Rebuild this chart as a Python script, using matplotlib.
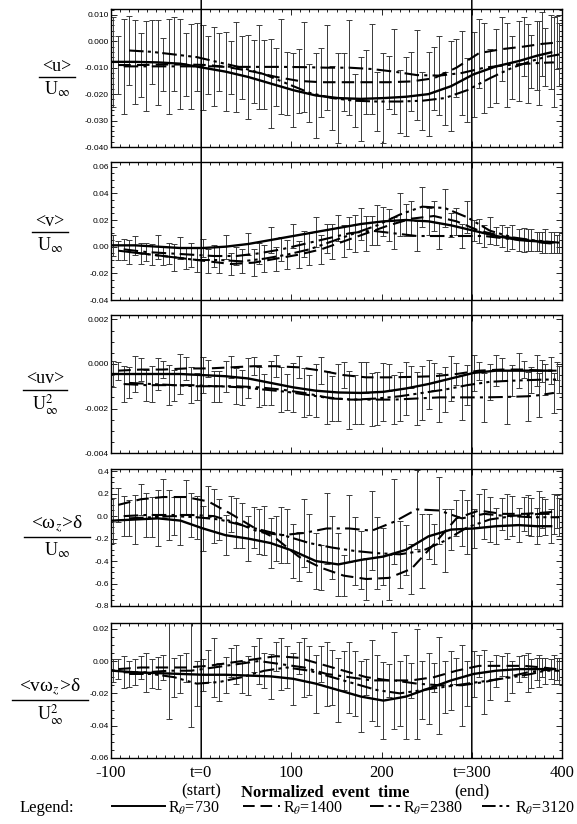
import matplotlib
matplotlib.use('Agg')
import matplotlib.pyplot as plt
from matplotlib.patches import ConnectionPatch
from matplotlib.lines import Line2D
from matplotlib.ticker import MultipleLocator

plt.rcParams['mathtext.fontset'] = 'stix'
plt.rcParams['font.family'] = ['Liberation Serif', 'DejaVu Serif']
plt.rcParams['axes.unicode_minus'] = False

# sample times for each Reynolds number (normalized event time)
t730 = [-98, -73, -48, -23, 2, 27, 52, 77, 102, 127, 152, 177, 202, 227, 252, 277, 302, 327, 352, 372, 388]
t1400 = [-92, -67, -42, -17, 8, 33, 58, 83, 108, 133, 158, 183, 208, 233, 258, 283, 308, 333, 358, 378, 394]
t2380 = [-86, -61, -36, -11, 14, 39, 64, 89, 114, 139, 164, 189, 214, 239, 264, 289, 314, 339, 362, 375, 391]
t3120 = [-80, -55, -30, -5, 20, 45, 70, 95, 120, 145, 170, 195, 220, 245, 270, 295, 320, 345, 366, 381, 397]

# <u>/Uinf
u730 = [-0.0078, -0.0078, -0.0080, -0.0085, -0.0100, -0.0115, -0.0135, -0.0160, -0.0185, -0.0205, -0.0215, -0.0218, -0.0215, -0.0210, -0.0200, -0.0170, -0.0125, -0.0095, -0.0075, -0.0055, -0.0042]
u1400 = [-0.0090, -0.0090, -0.0088, -0.0088, -0.0090, -0.0100, -0.0115, -0.0135, -0.0150, -0.0155, -0.0155, -0.0155, -0.0155, -0.0152, -0.0140, -0.0100, -0.0045, -0.0030, -0.0020, -0.0010, -0.0005]
u2380 = [-0.0095, -0.0095, -0.0095, -0.0095, -0.0095, -0.0097, -0.0097, -0.0097, -0.0098, -0.0100, -0.0100, -0.0105, -0.0115, -0.0128, -0.0130, -0.0120, -0.0100, -0.0090, -0.0085, -0.0082, -0.0080]
u3120 = [-0.0035, -0.0040, -0.0050, -0.0060, -0.0080, -0.0100, -0.0125, -0.0160, -0.0195, -0.0215, -0.0225, -0.0228, -0.0228, -0.0225, -0.0215, -0.0185, -0.0140, -0.0100, -0.0075, -0.0060, -0.0050]
eu730 = [0.017, 0.016, 0.016, 0.017, 0.016, 0.015, 0.016, 0.017, 0.014, 0.016, 0.017, 0.016, 0.017, 0.015, 0.016, 0.017, 0.016, 0.014, 0.015, 0.013, 0.014]
eu1400 = [0.011, 0.012, 0.010, 0.012, 0.011, 0.010, 0.012, 0.011, 0.012, 0.013, 0.011, 0.012, 0.010, 0.011, 0.012, 0.011, 0.013, 0.012, 0.011, 0.012, 0.010]
eu2380 = [0.018, 0.017, 0.018, 0.016, 0.015, 0.017, 0.016, 0.018, 0.017, 0.016, 0.018, 0.017, 0.016, 0.017, 0.015, 0.016, 0.017, 0.016, 0.015, 0.016, 0.017]
eu3120 = [0.013, 0.012, 0.014, 0.013, 0.011, 0.012, 0.013, 0.012, 0.011, 0.012, 0.010, 0.011, 0.012, 0.011, 0.010, 0.012, 0.011, 0.012, 0.010, 0.011, 0.012]

# <v>/Uinf
v730 = [0.001, 0.001, 0.000, -0.001, -0.001, 0.000, 0.002, 0.005, 0.008, 0.011, 0.014, 0.017, 0.019, 0.020, 0.019, 0.016, 0.012, 0.008, 0.005, 0.004, 0.003]
v1400 = [-0.003, -0.005, -0.007, -0.009, -0.011, -0.013, -0.012, -0.009, -0.006, -0.002, 0.004, 0.010, 0.016, 0.021, 0.023, 0.019, 0.012, 0.008, 0.005, 0.003, 0.002]
v2380 = [-0.002, -0.004, -0.005, -0.006, -0.007, -0.007, -0.005, -0.002, 0.002, 0.006, 0.010, 0.012, 0.010, 0.008, 0.008, 0.008, 0.008, 0.006, 0.005, 0.004, 0.003]
v3120 = [-0.004, -0.006, -0.008, -0.010, -0.010, -0.011, -0.009, -0.006, -0.002, 0.004, 0.010, 0.016, 0.024, 0.030, 0.029, 0.022, 0.012, 0.007, 0.005, 0.004, 0.003]
ev730 = [0.008, 0.007, 0.009, 0.008, 0.007, 0.009, 0.008, 0.010, 0.009, 0.011, 0.010, 0.012, 0.011, 0.012, 0.010, 0.009, 0.008, 0.007, 0.008, 0.007, 0.008]
ev1400 = [0.007, 0.008, 0.007, 0.008, 0.009, 0.008, 0.010, 0.009, 0.010, 0.011, 0.012, 0.013, 0.012, 0.013, 0.011, 0.010, 0.009, 0.008, 0.009, 0.008, 0.007]
ev2380 = [0.008, 0.007, 0.008, 0.009, 0.008, 0.007, 0.008, 0.009, 0.010, 0.011, 0.012, 0.011, 0.012, 0.011, 0.010, 0.009, 0.008, 0.009, 0.008, 0.007, 0.008]
ev3120 = [0.009, 0.008, 0.010, 0.009, 0.010, 0.009, 0.010, 0.011, 0.012, 0.013, 0.014, 0.015, 0.016, 0.015, 0.014, 0.012, 0.010, 0.009, 0.008, 0.009, 0.008]

# <uv>/Uinf^2
uv730 = [-0.00045, -0.00045, -0.00045, -0.00045, -0.00050, -0.00055, -0.00065, -0.00085, -0.00105, -0.00120, -0.00128, -0.00130, -0.00125, -0.00110, -0.00090, -0.00065, -0.00040, -0.00030, -0.00030, -0.00030, -0.00030]
uv1400 = [-0.00030, -0.00025, -0.00025, -0.00020, -0.00020, -0.00015, -0.00010, -0.00010, -0.00015, -0.00030, -0.00050, -0.00060, -0.00060, -0.00058, -0.00055, -0.00045, -0.00030, -0.00025, -0.00025, -0.00030, -0.00030]
uv2380 = [-0.00090, -0.00095, -0.00095, -0.00095, -0.00100, -0.00100, -0.00105, -0.00115, -0.00130, -0.00150, -0.00160, -0.00160, -0.00160, -0.00155, -0.00150, -0.00150, -0.00150, -0.00148, -0.00145, -0.00140, -0.00130]
uv3120 = [-0.00085, -0.00090, -0.00095, -0.00100, -0.00100, -0.00105, -0.00115, -0.00125, -0.00140, -0.00155, -0.00160, -0.00155, -0.00145, -0.00130, -0.00115, -0.00095, -0.00080, -0.00075, -0.00072, -0.00070, -0.00070]
euv730 = [0.0006, 0.0008, 0.0007, 0.0009, 0.0008, 0.0007, 0.0009, 0.0010, 0.0011, 0.0012, 0.0013, 0.0014, 0.0013, 0.0012, 0.0011, 0.0010, 0.0008, 0.0007, 0.0008, 0.0007, 0.0006]
euv1400 = [0.0004, 0.0005, 0.0004, 0.0005, 0.0004, 0.0005, 0.0004, 0.0005, 0.0005, 0.0006, 0.0006, 0.0007, 0.0006, 0.0005, 0.0006, 0.0005, 0.0004, 0.0005, 0.0004, 0.0005, 0.0004]
euv2380 = [0.0008, 0.0007, 0.0009, 0.0008, 0.0007, 0.0008, 0.0009, 0.0010, 0.0011, 0.0012, 0.0013, 0.0012, 0.0011, 0.0012, 0.0011, 0.0010, 0.0011, 0.0012, 0.0011, 0.0010, 0.0009]
euv3120 = [0.0007, 0.0008, 0.0007, 0.0006, 0.0007, 0.0008, 0.0007, 0.0008, 0.0009, 0.0010, 0.0011, 0.0012, 0.0011, 0.0012, 0.0010, 0.0009, 0.0008, 0.0007, 0.0006, 0.0007, 0.0006]

# <wz> delta / Uinf
w730 = [-0.04, -0.03, -0.02, -0.04, -0.11, -0.17, -0.20, -0.24, -0.31, -0.40, -0.43, -0.39, -0.36, -0.30, -0.18, -0.12, -0.11, -0.09, -0.08, -0.09, -0.09]
w1400 = [0.10, 0.15, 0.17, 0.17, 0.13, 0.02, -0.10, -0.20, -0.36, -0.46, -0.53, -0.56, -0.55, -0.47, -0.25, -0.02, 0.05, 0.02, 0.02, 0.03, 0.04]
w2380 = [0.00, 0.01, 0.01, 0.01, 0.00, -0.06, -0.14, -0.17, -0.15, -0.11, -0.11, -0.13, -0.05, 0.06, 0.05, -0.02, 0.02, 0.00, 0.01, 0.02, 0.02]
w3120 = [-0.02, -0.01, 0.00, -0.01, -0.03, -0.08, -0.13, -0.18, -0.24, -0.28, -0.31, -0.33, -0.34, -0.31, -0.22, -0.10, -0.03, 0.00, -0.01, -0.01, -0.01]
ew730 = [0.20, 0.22, 0.25, 0.22, 0.20, 0.18, 0.20, 0.22, 0.24, 0.25, 0.28, 0.26, 0.25, 0.22, 0.20, 0.18, 0.17, 0.16, 0.15, 0.16, 0.15]
ew1400 = [0.15, 0.14, 0.16, 0.15, 0.14, 0.16, 0.18, 0.20, 0.22, 0.20, 0.18, 0.19, 0.20, 0.22, 0.18, 0.16, 0.15, 0.14, 0.15, 0.14, 0.15]
ew2380 = [0.18, 0.20, 0.22, 0.20, 0.24, 0.22, 0.20, 0.25, 0.30, 0.32, 0.30, 0.35, 0.38, 0.35, 0.30, 0.25, 0.22, 0.20, 0.18, 0.20, 0.18]
ew3120 = [0.16, 0.18, 0.17, 0.19, 0.18, 0.20, 0.22, 0.24, 0.26, 0.28, 0.30, 0.32, 0.30, 0.33, 0.28, 0.24, 0.20, 0.18, 0.17, 0.16, 0.17]

# <v wz> delta / Uinf^2
vw730 = [-0.006, -0.007, -0.0075, -0.008, -0.0085, -0.0085, -0.009, -0.0095, -0.011, -0.014, -0.018, -0.022, -0.0245, -0.022, -0.017, -0.012, -0.008, -0.006, -0.005, -0.005, -0.005]
vw1400 = [-0.005, -0.004, -0.004, -0.004, -0.003, -0.001, 0.001, 0.003, 0.002, -0.002, -0.006, -0.010, -0.012, -0.012, -0.010, -0.006, -0.003, -0.003, -0.003, -0.004, -0.005]
vw2380 = [-0.007, -0.007, -0.006, -0.006, -0.004, -0.002, 0.000, -0.002, -0.004, -0.008, -0.010, -0.012, -0.012, -0.014, -0.015, -0.015, -0.013, -0.010, -0.007, -0.006, -0.005]
vw3120 = [-0.008, -0.008, -0.010, -0.014, -0.013, -0.010, -0.006, -0.004, -0.006, -0.010, -0.014, -0.018, -0.020, -0.018, -0.016, -0.014, -0.012, -0.010, -0.008, -0.006, -0.006]
evw730 = [0.007, 0.008, 0.010, 0.012, 0.010, 0.011, 0.012, 0.014, 0.016, 0.018, 0.020, 0.022, 0.024, 0.026, 0.022, 0.018, 0.014, 0.010, 0.008, 0.007, 0.006]
evw1400 = [0.006, 0.007, 0.008, 0.009, 0.010, 0.009, 0.008, 0.009, 0.010, 0.011, 0.012, 0.011, 0.010, 0.011, 0.009, 0.008, 0.007, 0.006, 0.007, 0.006, 0.007]
evw2380 = [0.010, 0.012, 0.030, 0.035, 0.018, 0.012, 0.014, 0.016, 0.018, 0.020, 0.022, 0.025, 0.030, 0.034, 0.030, 0.025, 0.020, 0.015, 0.012, 0.010, 0.009]
evw3120 = [0.008, 0.009, 0.012, 0.014, 0.012, 0.010, 0.011, 0.013, 0.015, 0.017, 0.020, 0.022, 0.020, 0.018, 0.016, 0.014, 0.012, 0.010, 0.009, 0.008, 0.008]

re_labels = ['R$_\\theta$=730', 'R$_\\theta$=1400', 'R$_\\theta$=2380', 'R$_\\theta$=3120']
xtick_vals = [-100, 0, 100, 200, 300, 400]
xtick_labels = ['-100', 't=0\n(start)', '100', '200', 't=300\n(end)', '400']

yt_u = [-0.04, -0.03, -0.02, -0.01, 0.0, 0.01]
yl_u = ['-0.040', '-0.030', '-0.020', '-0.010', '0.000', '0.010']
yt_v = [-0.04, -0.02, 0.0, 0.02, 0.04, 0.06]
yl_v = ['-0.04', '-0.02', '0.00', '0.02', '0.04', '0.06']
yt_uv = [-0.004, -0.002, 0.0, 0.002]
yl_uv = ['-0.004', '-0.002', '0.000', '0.002']
yt_w = [-0.8, -0.6, -0.4, -0.2, 0.0, 0.2, 0.4]
yl_w = ['-0.8', '-0.6', '-0.4', '-0.2', '0.0', '0.2', '0.4']
yt_vw = [-0.06, -0.04, -0.02, 0.0, 0.02]
yl_vw = ['-0.06', '-0.04', '-0.02', '0.00', '0.02']

# y-axis labels drawn as fractions: numerator, denominator
num_labels = ['<u>', '<v>', '<uv>', '<ω$_z$>δ', '<vω$_z$>δ']
den_labels = ['U$_\\infty$', 'U$_\\infty$', 'U$_\\infty^2$', 'U$_\\infty$', 'U$_\\infty^2$']

times = [t730, t1400, t2380, t3120]
styles = ['-', (0, (6, 3)), (0, (7, 2.5, 1.5, 2.5)), (0, (7, 2, 1.5, 2, 1.5, 2))]
lw_series = [1.7, 1.5, 1.5, 1.5]

panels = [
    ([u730, u1400, u2380, u3120], [eu730, eu1400, eu2380, eu3120], (-0.040, 0.0122), yt_u, yl_u, 0.002),
    ([v730, v1400, v2380, v3120], [ev730, ev1400, ev2380, ev3120], (-0.04, 0.0635), yt_v, yl_v, 0.005),
    ([uv730, uv1400, uv2380, uv3120], [euv730, euv1400, euv2380, euv3120], (-0.004, 0.0022), yt_uv, yl_uv, 0.0005),
    ([w730, w1400, w2380, w3120], [ew730, ew1400, ew2380, ew3120], (-0.8, 0.42), yt_w, yl_w, 0.05),
    ([vw730, vw1400, vw2380, vw3120], [evw730, evw1400, evw2380, evw3120], (-0.06, 0.0235), yt_vw, yl_vw, 0.005),
]

rects = [(0.1924, 0.8216, 0.7816, 0.1675),
         (0.1924, 0.6359, 0.7816, 0.1675),
         (0.1924, 0.4502, 0.7816, 0.1675),
         (0.1924, 0.2646, 0.7816, 0.1663),
         (0.1924, 0.0801, 0.7816, 0.1638)]
# label centre x, fraction-bar y (axes fraction), bar half length (px), font size
lab_pos = [(-0.12, 0.51, 18, 13), (-0.135, 0.49, 18, 13), (-0.146, 0.46, 22, 13),
           (-0.12, 0.50, 33, 14), (-0.135, 0.43, 38, 14)]

fig = plt.figure(figsize=(5.77, 8.24), dpi=100)
axes = []
for i, (vals, errs, ylim, yt, yl, ymin) in enumerate(panels):
    ax = fig.add_axes(rects[i])
    axes.append(ax)
    for k in range(4):
        ax.errorbar(times[k], vals[k], yerr=errs[k], fmt='none', ecolor='#3a3a3a',
                    elinewidth=0.7, capsize=2.2, capthick=0.7, zorder=2)
        ax.plot(times[k], vals[k], color='black', linestyle=styles[k], lw=lw_series[k], zorder=3)
    ax.set_xlim(-100, 400)
    ax.set_ylim(*ylim)
    ax.set_yticks(yt)
    ax.set_yticklabels(yl, fontsize=6, family=['Liberation Sans Narrow', 'Liberation Sans'])
    ax.yaxis.set_minor_locator(MultipleLocator(ymin))
    ax.set_xticks(xtick_vals)
    ax.xaxis.set_minor_locator(MultipleLocator(10))
    if i < 4:
        ax.set_xticklabels([])
    else:
        ax.set_xticklabels(xtick_labels, fontsize=12)
    ax.tick_params(which='both', direction='in', top=True, right=True, width=0.6, pad=1.5)
    ax.tick_params(which='major', length=4)
    ax.tick_params(which='minor', length=2)
    ax.tick_params(axis='x', pad=5)
    for s in ax.spines.values():
        s.set_linewidth(1.0)

    cx, by, hw, fs = lab_pos[i]
    hw = hw / 451
    ax.text(cx, by + 0.015, num_labels[i], transform=ax.transAxes, ha='center', va='bottom', fontsize=fs)
    ax.text(cx, by - 0.02, den_labels[i], transform=ax.transAxes, ha='center', va='top', fontsize=13)
    ax.add_line(Line2D([cx - hw, cx + hw], [by, by], transform=ax.transAxes, clip_on=False,
                       color='black', lw=1.0))

# event start / end markers crossing all panels
for tv in [0, 300]:
    con = ConnectionPatch(xyA=(tv, 1.07), coordsA=axes[0].get_xaxis_transform(),
                          xyB=(tv, 0), coordsB=axes[-1].get_xaxis_transform(),
                          color='black', lw=1.1, zorder=5)
    fig.add_artist(con)

axes[-1].text(137, -0.26, 'Normalized  event  time', transform=axes[-1].get_xaxis_transform(),
              ha='center', va='center', fontsize=12, fontweight='bold')

# legend row
ly = 0.0194
fig.text(20 / 577, ly, 'Legend:', ha='left', va='center', fontsize=12)
seg = [(112, 165), (243, 280), (370, 400), (482, 512)]
for k in range(4):
    x0, x1 = seg[k]
    fig.add_artist(Line2D([x0 / 577, x1 / 577], [ly + 0.002, ly + 0.002], color='black',
                          linestyle=styles[k], lw=1.4, transform=fig.transFigure))
    fig.text((x1 + 3) / 577, ly, re_labels[k], ha='left', va='center', fontsize=11.5)

fig.savefig('out.png', dpi=100)
